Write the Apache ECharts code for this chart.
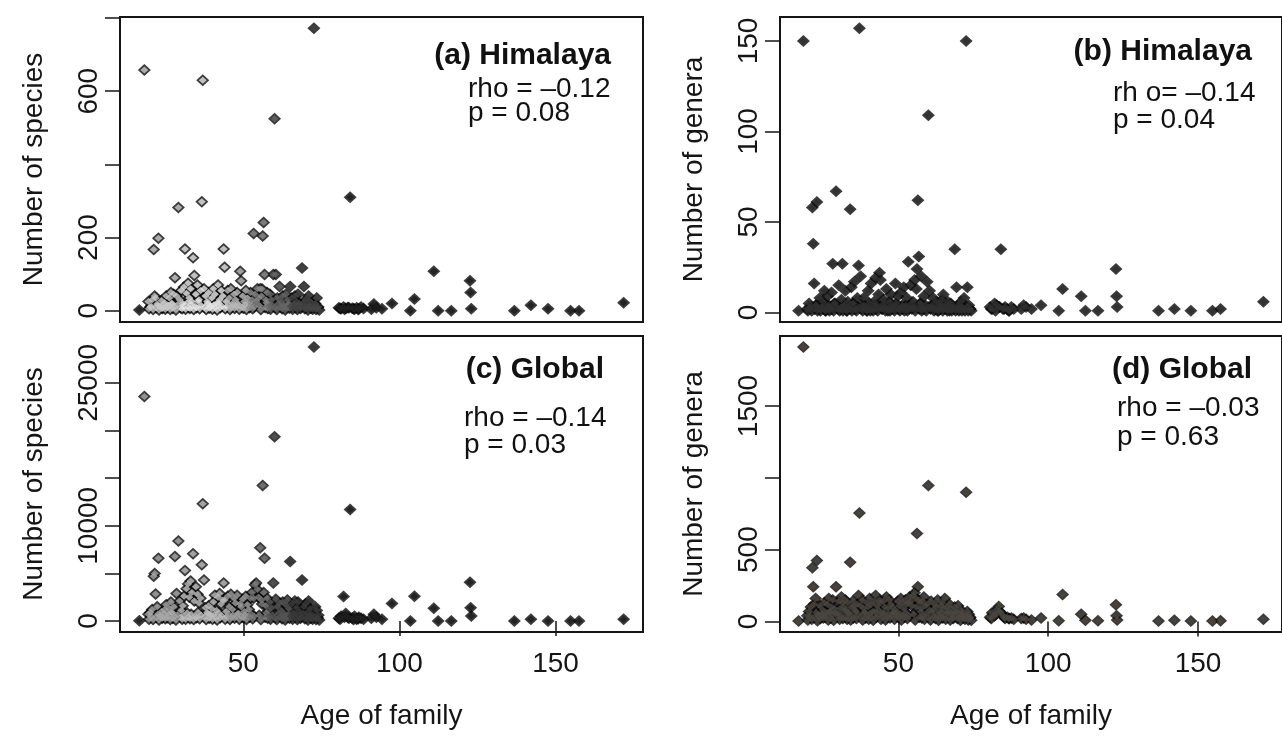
<!DOCTYPE html>
<html>
<head>
<meta charset="utf-8">
<script src="https://cdn.jsdelivr.net/npm/echarts@6/dist/echarts.min.js"></script>
<style>
html,body{margin:0;padding:0;background:#fff;}
#chart{width:1282px;height:754px;}
</style>
</head>
<body>
<div id="chart"></div>
<script>
// ---- data (one entry per plant family): age, Himalayan species/genera, global species/genera ----
const ages = [
16.7,18.3,19.6,20.2,20.8,21.3,21.6,21.9,22.4,22.8,
23.3,23.8,24.3,24.8,25.3,25.8,26.3,26.8,27.2,27.7,
28.1,28.6,29.2,29.6,30.1,30.6,31.0,31.3,31.8,32.3,
32.7,33.1,33.5,33.9,34.3,34.8,35.3,35.8,36.3,36.7,
37.0,37.4,37.9,38.4,38.9,39.4,39.9,40.4,40.9,41.4,
41.9,42.4,42.9,43.4,43.7,44.0,44.5,45.0,45.5,46.0,
46.5,47.0,47.5,48.0,48.5,49.0,49.3,49.8,50.3,50.8,
51.3,51.8,52.3,52.8,53.3,53.7,54.1,54.5,54.9,55.4,
55.8,56.0,56.2,56.5,56.8,57.2,57.6,58.0,58.5,59.0,
59.6,60.0,60.4,60.9,61.6,62.1,62.6,63.1,63.6,64.1,
64.6,65.0,65.5,66.0,66.5,67.0,67.5,68.0,68.8,69.4,
69.9,70.4,70.9,71.4,71.9,72.6,73.0,73.5,74.0,80.6,
81.3,82.1,82.8,83.5,84.2,84.9,85.6,86.3,87.0,87.7,
88.5,91.0,91.8,92.6,94.4,97.6,103.5,104.8,111.0,112.4,
116.6,122.6,122.8,123.0,136.8,142.1,147.6,154.8,157.5,171.8,
19.8,20.5,21.1,22.1,22.6,23.0,23.5,24.0,24.6,25.0,
25.6,26.0,26.6,27.0,27.4,27.9,28.4,28.9,29.9,30.4,
30.8,31.5,32.0,32.5,32.9,33.3,34.1,34.5,35.0,35.5,
36.0,36.5,37.6,38.1,38.6,39.1,39.6,40.1,40.6,41.1,
41.6,42.1,42.6,43.1,44.2,44.7,45.2,45.7,46.2,46.7,
47.2,47.7,48.2,48.7,49.5,50.0,50.5,51.0,51.5,52.0,
52.5,53.0,53.5,55.1,55.6,57.0,57.4,57.8,58.2,58.7,
59.3,60.2,60.7,61.2,61.9,62.4,62.9,63.4,63.9,64.4,
64.8,65.2,65.8,66.3,66.8,67.3,67.8,68.3,68.6,69.1,
69.7,70.2,70.7,71.2,71.7,72.2,72.9,73.3,73.8,74.3,
81.0,82.4,83.8,85.3,86.8
];
const himSpecies = [
2,658,25,10,30,167,40,35,18,198,
12,28,8,22,40,15,35,50,20,45,
90,40,282,30,55,20,65,169,48,75,
35,60,25,145,96,45,70,30,55,298,
630,60,40,25,50,15,35,60,45,20,
70,30,55,40,169,119,25,55,35,60,
20,45,30,50,15,108,82,40,25,55,
35,20,50,30,211,45,25,60,35,60,
40,59,204,241,99,30,50,20,45,30,
99,525,99,35,66,25,40,15,45,30,
20,66,35,15,40,25,45,20,117,66,
30,15,40,25,10,772,20,35,10,8,
5,10,6,9,310,7,4,8,5,10,
6,4,18,8,5,20,0,32,108,0,
0,82,50,5,0,15,5,0,0,22,
5,12,3,8,15,2,10,6,18,4,
9,14,3,20,7,11,2,16,8,5,
13,4,22,9,6,17,3,12,8,25,
5,14,10,3,19,7,12,4,16,9,
2,21,8,13,5,11,18,3,9,15,
6,12,20,4,10,7,16,3,13,8,
18,5,11,14,3,9,22,6,12,4,
15,8,3,19,10,5,13,2,9,16,
7,12,4,18,9,3,14,6,11,20,
5,9,2,13,7,4,11,3,8,2,
6,4,8,5,3
];
const himGenera = [
1,150,2,5,3,58,38,16,4,61,
2,8,3,6,12,1,9,4,2,11,
27,5,67,3,15,2,7,27,4,12,
1,6,3,57,14,5,17,2,8,26,
157,20,4,8,3,1,12,5,16,2,
6,19,4,10,22,18,2,7,3,13,
1,6,10,3,2,16,5,9,2,11,
4,14,3,8,28,4,15,2,6,18,
3,13,24,62,31,5,20,2,9,4,
17,109,12,3,8,2,6,1,5,3,
7,10,4,2,6,1,5,3,35,14,
4,2,6,3,8,150,14,4,2,3,
2,5,4,3,35,2,3,2,1,3,
2,2,4,3,2,4,1,13,9,1,
1,24,9,3,1,2,1,1,2,6,
1,3,1,2,4,1,2,1,3,2,
1,4,2,1,3,2,1,5,2,1,
3,1,4,2,1,3,2,1,5,2,
1,3,2,1,4,2,1,3,1,2,
1,4,2,1,3,2,5,1,2,3,
1,2,4,1,3,2,1,3,2,1,
4,1,2,3,1,2,5,1,3,2,
1,3,2,4,1,2,3,1,2,4,
1,2,3,1,4,2,1,3,2,1,
2,1,3,1,2,1,3,1,2,1,
2,1,3,2,1
];
const globSpecies = [
40,23580,700,900,1200,4700,5000,2830,1500,6600,
600,1000,400,1200,1700,800,1300,2000,900,1500,
6780,2900,8400,2100,1100,1600,2600,5300,3400,3900,
2500,4200,3000,7060,2100,3600,2800,1900,2400,5900,
12320,4300,1400,900,1600,700,1300,2000,2700,1100,
2500,2900,1800,2200,3990,2200,1000,2600,1500,2800,
1200,2400,1900,2700,800,1800,1500,2300,1000,2600,
1700,1200,2400,3000,2400,3800,4000,3300,2500,7700,
2200,1800,14220,3000,6600,1600,2400,1100,2000,1400,
4000,19350,2300,1500,1900,1100,2000,800,1700,2200,
1300,6250,1800,900,2100,1400,2000,1000,4300,1500,
1800,900,2100,1300,700,28770,1500,1100,600,300,
500,2580,800,400,11720,300,500,200,400,300,
200,300,700,400,200,1840,0,2610,1340,0,
0,4060,1400,530,0,200,0,0,0,200,
200,500,150,400,700,100,450,300,800,250,
350,600,150,900,300,500,100,650,400,200,
550,200,850,400,250,700,150,500,350,900,
250,600,450,150,800,300,550,200,650,400,
100,850,350,550,200,450,750,150,400,600,
300,500,800,200,450,350,650,150,550,400,
750,250,500,600,150,400,850,300,500,200,
650,350,150,800,450,250,550,100,400,700,
300,500,200,750,400,150,600,300,450,800,
250,400,100,550,300,200,450,150,350,100,
200,400,300,150,250
];
const globGenera = [
4,1911,40,70,100,374,241,120,160,425,
50,110,40,80,130,60,120,160,70,100,
150,90,241,60,140,90,170,130,100,150,
80,130,60,413,100,140,110,70,120,180,
755,110,150,90,60,130,100,160,120,70,
140,180,110,80,150,130,60,140,100,170,
90,150,120,100,60,80,60,140,110,160,
130,90,150,120,130,170,140,110,180,200,
160,100,612,241,150,130,90,140,170,110,
120,946,80,140,80,120,100,150,70,110,
130,90,160,100,70,120,90,60,100,70,
110,50,80,60,40,899,70,50,30,30,
60,40,80,105,60,40,20,30,20,25,
15,20,25,15,10,25,5,187,50,8,
5,117,40,10,3,8,4,3,5,15,
10,40,15,30,60,5,35,20,55,25,
30,50,10,70,25,45,8,60,35,15,
45,20,75,30,15,55,10,40,25,80,
20,50,35,10,65,25,45,15,55,30,
8,70,30,45,15,35,60,10,30,50,
25,40,65,15,35,30,55,10,45,30,
60,20,40,50,10,30,70,25,40,15,
55,30,10,65,35,20,45,8,30,60,
25,40,15,60,30,10,50,20,35,65,
20,30,8,45,25,15,35,10,25,8,
20,50,70,30,20
];
// axis ticks and labels
const xTickValues = [50, 100, 150];
const yTicksA = [0, 200, 400, 600, 800];
const yLabelsA = [0, 200, 600];
const yTicksB = [0, 50, 100, 150];
const yLabelsB = [0, 50, 100, 150];
const yTicksC = [0, 5000, 10000, 15000, 20000, 25000];
const yLabelsC = [0, 10000, 25000];
const yTicksD = [0, 500, 1000, 1500];
const yLabelsD = [0, 500, 1500];
// panel texts
const panelTitles = ['(a) Himalaya', '(b) Himalaya', '(c) Global', '(d) Global'];
const rhoTexts = ['rho = \u20130.12', 'rh o= \u20130.14', 'rho = \u20130.14', 'rho = \u20130.03'];
const pTexts = ['p = 0.08', 'p = 0.04', 'p = 0.03', 'p = 0.63'];
const yNames = ['Number of species', 'Number of genera', 'Number of species', 'Number of genera'];
const xName = 'Age of family';

// ---- layout ----
const FONT = '"Liberation Sans", Arial, Helvetica, sans-serif';
function padRange(arr) { // R-style 4% extension of the data range
  const mn = Math.min.apply(null, arr), mx = Math.max.apply(null, arr);
  const d = (mx - mn) * 0.04;
  return [mn - d, mx + d];
}
const xr = padRange(ages);
const panels = [
  {vals: himSpecies, ticks: yTicksA, labels: yLabelsA, grid: {left:120, top:17, width:523, height:305}, bottom:false,
   fill: [[17,'#222'],[30,'#c8c8c8'],[45,'#e4e4e4'],[52,'#b8b8b8'],[58,'#8c8c8c'],[65,'#666'],[77,'#444'],[999,'#1e1e1e']],
   title:[611,56], rho:[468,89], p:[468,113]},
  {vals: himGenera, ticks: yTicksB, labels: yLabelsB, grid: {left:780, top:17, width:514, height:305}, bottom:false,
   fill: [[999,'#2f2f2f']],
   title:[1252,52], rho:[1113,93], p:[1113,120]},
  {vals: globSpecies, ticks: yTicksC, labels: yLabelsC, grid: {left:120, top:336, width:523, height:296}, bottom:true,
   fill: [[17,'#222'],[30,'#a8a8a8'],[45,'#bdbdbd'],[52,'#9c9c9c'],[58,'#7a7a7a'],[65,'#555'],[77,'#3a3a3a'],[999,'#1e1e1e']],
   title:[604,370], rho:[464,418], p:[464,445]},
  {vals: globGenera, ticks: yTicksD, labels: yLabelsD, grid: {left:780, top:336, width:514, height:296}, bottom:true,
   fill: [[999,'#4a4641']],
   title:[1252,370], rho:[1117,408], p:[1117,437]}
];

const grids = [], xAxes = [], yAxes = [], series = [], graphics = [];
panels.forEach((pn, i) => {
  grids.push(Object.assign({show:true, borderColor:'#151515', borderWidth:2, backgroundColor:'rgba(0,0,0,0)'}, pn.grid));
  xAxes.push({
    type:'value', gridIndex:i, min:xr[0], max:xr[1],
    axisLine:{show:false}, splitLine:{show:false},
    axisTick:{show:pn.bottom, length:15, customValues:xTickValues, lineStyle:{color:'#151515', width:1.5}},
    axisLabel:{show:pn.bottom, customValues:xTickValues, margin:18, fontSize:28, fontFamily:FONT, color:'#151515', formatter:v=>String(v)},
    name: pn.bottom ? xName : '', nameLocation:'middle', nameGap:70,
    nameTextStyle:{fontSize:28, fontFamily:FONT, color:'#151515'}
  });
  const yr = padRange(pn.vals);
  yAxes.push({
    type:'value', gridIndex:i, min:yr[0], max:yr[1],
    axisLine:{show:false}, splitLine:{show:false},
    axisTick:{show:true, length:15, customValues:pn.ticks, lineStyle:{color:'#151515', width:1.5}},
    axisLabel:{customValues:pn.labels, rotate:90, margin:17, fontSize:28, fontFamily:FONT, color:'#151515', formatter:v=>String(v)},
    name: yNames[i], nameLocation:'middle', nameGap:72,
    nameTextStyle:{fontSize:28, fontFamily:FONT, color:'#151515'}
  });
  const data = ages.map((a, k) => [a, pn.vals[k]]);
  // black outline pass, then grey fill pass (as in the original R figure)
  series.push({
    type:'scatter', xAxisIndex:i, yAxisIndex:i, data:data, symbol:'diamond', symbolSize:[13,12],
    itemStyle:{color:'#0a0a0a'}, z:2, silent:true
  });
  const fills = pn.fill;
  series.push({
    type:'scatter', xAxisIndex:i, yAxisIndex:i, data:data, symbol:'diamond', symbolSize:[8,7],
    itemStyle:{color: function(p){ const a = p.value[0]; for (const s of fills) { if (a < s[0]) return s[1]; } return fills[fills.length-1][1]; }},
    z:3, silent:true
  });
  graphics.push({type:'text', x:pn.title[0], y:pn.title[1], style:{text:panelTitles[i], font:'bold 30px ' + FONT, fill:'#111', textAlign:'right', textVerticalAlign:'middle'}});
  graphics.push({type:'text', x:pn.rho[0], y:pn.rho[1], style:{text:rhoTexts[i], font:'28px ' + FONT, fill:'#111', textAlign:'left', textVerticalAlign:'middle'}});
  graphics.push({type:'text', x:pn.p[0], y:pn.p[1], style:{text:pTexts[i], font:'28px ' + FONT, fill:'#111', textAlign:'left', textVerticalAlign:'middle'}});
});

const chart = echarts.init(document.getElementById('chart'), null, {renderer:'canvas'});
chart.setOption({
  animation:false,
  backgroundColor:'#ffffff',
  grid:grids, xAxis:xAxes, yAxis:yAxes, series:series, graphic:graphics
});
</script>
</body>
</html>
